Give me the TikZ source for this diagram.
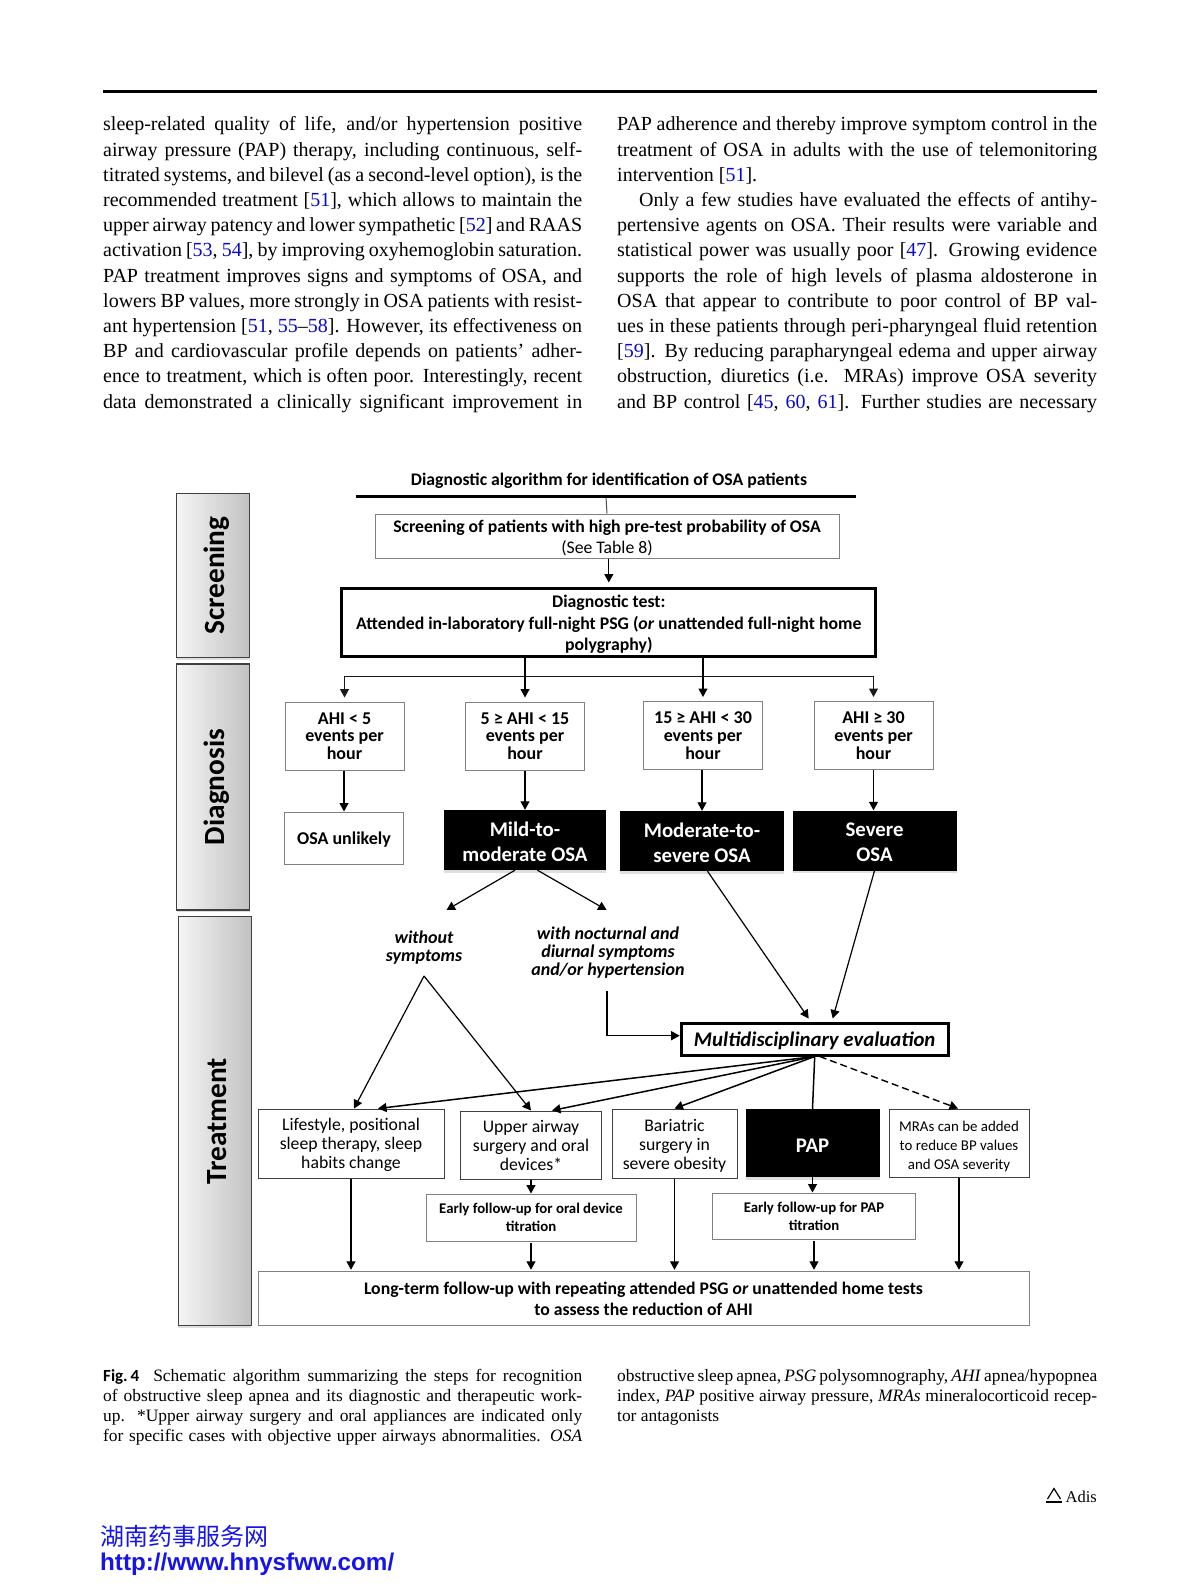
\documentclass[tikz,border=0pt]{standalone}
\usepackage{fontspec}
\setmainfont{Liberation Serif}
\newfontfamily\carlito{Carlito}
\newfontfamily\urlfont{Liberation Sans}
\newfontfamily\cjk{Noto Sans CJK SC}
\usetikzlibrary{arrows.meta, shadows}
\definecolor{citeblue}{RGB}{10,10,200}
\definecolor{markblue}{RGB}{20,20,235}
\newcommand{\rf}[1]{\textcolor{citeblue}{#1}}
\newcommand{\colleft}[1]{\makebox[479pt][s]{#1}}
\newcommand{\colright}[1]{\makebox[480pt][s]{#1}}

\begin{document}
\begin{tikzpicture}[
         x=1pt, y=-1pt,
         >={Stealth[inset=0pt,length=8.5pt,width=9pt]},
         size/.style 2 args={minimum width=#1, minimum height=#2, inner sep=0pt, align=center},
         bodyline/.style={anchor=mid west, inner sep=0pt, font=\fontsize{20}{25}\selectfont},
         capline/.style={anchor=mid west, inner sep=0pt, font=\fontsize{17.4}{20}\selectfont},
         panel/.style={draw=black!75, line width=1.1pt, left color=black!4, right color=black!24,
            drop shadow={shadow xshift=0pt, shadow yshift=-2pt, opacity=0.25},
            minimum width=73pt, inner sep=0pt, font=\carlito\bfseries\fontsize{29.3}{31}\selectfont},
         plain/.style={draw=black!50, line width=1pt, fill=white},
         rangebox/.style={plain, font=\carlito\bfseries\fontsize{18}{17.7}\selectfont},
         heavy/.style={draw=black, line width=3pt, fill=white},
         severity/.style={fill=black, text=white, size={162pt}{60pt},
            drop shadow={shadow xshift=0pt, shadow yshift=-2.5pt, opacity=0.25},
            font=\carlito\bfseries\fontsize{20.8}{25}\selectfont},
         therapy/.style={draw=black!75, line width=1pt, fill=white, font=\carlito\fontsize{17.7}{19}\selectfont},
         followup/.style={plain, font=\carlito\bfseries\fontsize{14.8}{17.7}\selectfont},
         branch/.style={inner sep=0pt, align=center, font=\carlito\bfseries\itshape\fontsize{18}{18}\selectfont},
         flow/.style={->, line width=1.2pt}
      ]
         \useasboundingbox (0,0) rectangle (1200,1594);

         % Page text
         \node[fill=black, minimum width=994pt, minimum height=2.6pt, inner sep=0pt] (toprule) at (600,91.5) {};
         \foreach \txt [count=\i] in {
            {sleep-related quality of life, and/or hypertension positive},
            {airway pressure (PAP) therapy, including continuous, self-},
            {titrated systems, and bilevel (as a second-level option), is the},
            {recommended treatment [\rf{51}], which allows to maintain the},
            {upper airway patency and lower sympathetic [\rf{52}] and RAAS},
            {activation [\rf{53}, \rf{54}], by improving oxyhemoglobin saturation.},
            {PAP treatment improves signs and symptoms of OSA, and},
            {lowers BP values, more strongly in OSA patients with resist-},
            {ant hypertension [\rf{51}, \rf{55}--\rf{58}]. However, its effectiveness on},
            {BP and cardiovascular profile depends on patients’ adher-},
            {ence to treatment, which is often poor. Interestingly, recent},
            {data demonstrated a clinically significant improvement in}}
            \node[bodyline] (left\i) at (103,{128.7+25.2*(\i-1)}) {\colleft{\txt}};
         \foreach \txt [count=\i] in {
            {PAP adherence and thereby improve symptom control in the},
            {treatment of OSA in adults with the use of telemonitoring},
            {intervention [\rf{51}].\hfill},
            {\hspace*{22pt}Only a few studies have evaluated the effects of antihy-},
            {pertensive agents on OSA. Their results were variable and},
            {statistical power was usually poor [\rf{47}]. Growing evidence},
            {supports the role of high levels of plasma aldosterone in},
            {OSA that appear to contribute to poor control of BP val-},
            {ues in these patients through peri-pharyngeal fluid retention},
            {[\rf{59}]. By reducing parapharyngeal edema and upper airway},
            {obstruction, diuretics (i.e. MRAs) improve OSA severity},
            {and BP control [\rf{45}, \rf{60}, \rf{61}]. Further studies are necessary}}
            \node[bodyline] (right\i) at (617,{128.7+25.2*(\i-1)}) {\colright{\txt}};

         % Side panels
         \node[panel, minimum height=164pt] (screening) at (213.3,575.5) {\hspace{7pt}\rotatebox{90}{Screening}};
         \node[panel, minimum height=246pt] (diagnosis) at (213.3,787) {\hspace{7pt}\rotatebox{90}{Diagnosis}};
         \node[panel, minimum height=409pt] (treatment) at (214.6,1121) {\hspace{5pt}\rotatebox{90}{Treatment}};

         % Screening and test
         \node[font=\carlito\bfseries\fontsize{17.7}{21}\selectfont] (title) at (609,481) {Diagnostic algorithm for identification of OSA patients};
         \node[fill=black, minimum width=500pt, minimum height=3pt, inner sep=0pt] (titlerule) at (606,496) {};
         \node[plain, size={464pt}{44pt}, font=\carlito\fontsize{17.7}{21}\selectfont] (screenbox) at (607,536)
            {\rule{0pt}{17pt}\textbf{Screening of patients with high pre-test probability of OSA}\\(See Table 8)};
         \node[heavy, size={534pt}{68pt}, font=\carlito\bfseries\fontsize{17.75}{21.3}\selectfont] (testbox) at (608.8,622)
            {\rule{0pt}{17pt}Diagnostic test:\\Attended in-laboratory full-night PSG (\textit{or} unattended full-night home\\polygraphy)};

         % AHI ranges
         \node[rangebox, size={119pt}{68pt}] (ahiA) at (344.5,736) {AHI < 5\\events per\\hour};
         \node[rangebox, size={119pt}{68pt}] (ahiB) at (525,736) {5 ≥ AHI < 15\\events per\\hour};
         \node[rangebox, size={119pt}{68pt}] (ahiC) at (703,735.5) {15 ≥ AHI < 30\\events per\\hour};
         \node[rangebox, size={119pt}{68pt}] (ahiD) at (873.5,735.5) {AHI ≥ 30\\events per\\hour};

         % Diagnoses
         \node[rangebox, size={119pt}{52pt}] (unlikely) at (344,838) {\rule{0pt}{15pt}OSA unlikely};
         \node[severity] (mild) at (525,840) {\rule{0pt}{18pt}Mild-to-\\moderate OSA};
         \node[severity, size={164pt}{60pt}] (moderate) at (702,841) {\rule{0pt}{18pt}Moderate-to-\\severe OSA};
         \node[severity, size={164pt}{60pt}] (severe) at (874.5,840.5) {\rule{0pt}{18pt}Severe\\OSA};

         % Symptom branches
         \node[branch] (without) at (424,948) {without\\symptoms};
         \node[branch] (nocturnal) at (608,953) {with nocturnal and\\diurnal symptoms\\and/or hypertension};
         \coordinate (withoutTip) at (446.5,910);
         \coordinate (nocturnalTip) at (606.6,910);
         \coordinate (apex) at (424,976);
         \coordinate (elbow) at (607,990.7);
         \node[heavy, size={267pt}{32pt}, font=\carlito\bfseries\itshape\fontsize{20.8}{24}\selectfont] (multi) at (814.7,1039) {\rule{0pt}{19pt}Multidisciplinary evaluation};

         % Treatments
         \node[therapy, size={186pt}{69pt}] (lifestyle) at (351,1143.5) {\rule{0pt}{16pt}Lifestyle, positional\\sleep therapy, sleep\\habits change};
         \node[therapy, size={141.6pt}{68pt}] (upper) at (531,1145) {Upper airway\\surgery and oral\\devices*};
         \node[therapy, size={125pt}{69pt}] (bariatric) at (674.5,1143.5) {\rule{0pt}{16pt}Bariatric\\surgery in\\severe obesity};
         \node[severity, size={134pt}{68pt}] (pap) at (812.5,1143) {\rule{0pt}{19pt}PAP};
         \node[therapy, size={140pt}{68pt}, font=\carlito\fontsize{14.9}{19}\selectfont] (mras) at (959,1143) {\rule{0pt}{17pt}MRAs can be added\\to reduce BP values\\and OSA severity};
         \node[followup, size={210pt}{47pt}] (earlyoral) at (531,1217.5) {Early follow-up for oral device\\titration};
         \node[followup, size={203pt}{46pt}] (earlypap) at (814,1216) {Early follow-up for PAP\\titration};
         \node[plain, size={771pt}{53.5pt}, font=\carlito\bfseries\fontsize{17.7}{21}\selectfont] (longterm) at (643.5,1298.5)
            {Long-term follow-up with repeating attended PSG \textit{or} unattended home tests\\to assess the reduction of AHI};

         % Arrows
         \draw[line width=1pt, black!70] (titlerule.south) -- (screenbox.north);
         \draw[flow, shorten >=4pt] (testbox.north |- screenbox.south) -- (testbox.north);
         \coordinate (bar) at (608,676.7);
         \draw[<->, line width=1.2pt, black!90, shorten <=4pt, shorten >=4pt] (ahiA.north) |- (bar) -| (ahiD.north);
         \draw[flow, shorten >=4pt] (testbox.south -| ahiB.north) -- (ahiB.north);
         \draw[flow, shorten >=4pt] (testbox.south -| ahiC.north) -- (ahiC.north);
         \draw[flow] (unlikely.north |- ahiA.south) -- (unlikely.north);
         \draw[flow] (ahiB.south) -- (mild.north);
         \draw[flow] (moderate.north |- ahiC.south) -- (moderate.north);
         \draw[flow] (ahiD.south) -- (ahiD.south |- severe.north);
         \draw[flow] ([xshift=-10pt]mild.south) -- (withoutTip);
         \draw[flow] ([xshift=12.5pt]mild.south) -- (nocturnalTip);
         \draw[flow] ([xshift=5.5pt]moderate.south) -- ([xshift=-6pt,yshift=3pt]multi.north);
         \draw[flow] (severe.south) -- ([xshift=18pt,yshift=3pt]multi.north);
         \draw[flow] (elbow) |- ([yshift=3.3pt]multi.west);
         \draw[flow] (apex) -- ([xshift=3pt]lifestyle.north);
         \draw[flow] (apex) -- (upper.north);
         \draw[flow, line width=1.5pt] (multi.south) -- ([xshift=27pt]lifestyle.north);
         \draw[flow, line width=1.5pt] (multi.south) -- ([xshift=21pt]upper.north);
         \draw[flow, line width=1.5pt] (multi.south) -- (bariatric.north);
         \draw[line width=1.5pt] (multi.south) -- (pap.north);
         \draw[flow, dash pattern=on 7pt off 4pt, line width=1.4pt] ([xshift=5pt]multi.south) -- ([xshift=-1pt]mras.north);
         \draw[flow] (upper.south) -- (earlyoral.north);
         \draw[flow] (pap.south) -- (pap.south |- earlypap.north);
         \draw[flow, shorten >=1.5pt] (lifestyle.south) -- (lifestyle.south |- longterm.north);
         \draw[flow, shorten >=1.5pt, shorten <=1.5pt] (earlyoral.south) -- (earlyoral.south |- longterm.north);
         \draw[flow, shorten >=1.5pt] (bariatric.south) -- (bariatric.south |- longterm.north);
         \draw[flow, shorten >=1.5pt, shorten <=1.5pt] (earlypap.south) -- (earlypap.south |- longterm.north);
         \draw[flow, shorten >=1.5pt] (mras.south) -- (mras.south |- longterm.north);

         % Caption
         \foreach \txt [count=\i] in {
            {{\carlito\bfseries\fontsize{17}{20}\selectfont Fig.\,4}\hspace{7pt} Schematic algorithm summarizing the steps for recognition},
            {of obstructive sleep apnea and its diagnostic and therapeutic work-},
            {up. *Upper airway surgery and oral appliances are indicated only},
            {for specific cases with objective upper airways abnormalities. \textit{OSA}}}
            \node[capline] (capleft\i) at (103,{1378.7+20.1*(\i-1)}) {\colleft{\txt}};
         \foreach \txt [count=\i] in {
            {obstructive sleep apnea, \textit{PSG} polysomnography, \textit{AHI} apnea/hypopnea},
            {index, \textit{PAP} positive airway pressure, \textit{MRAs} mineralocorticoid recep-},
            {tor antagonists\hfill}}
            \node[capline] (capright\i) at (617,{1378.7+20.1*(\i-1)}) {\colright{\txt}};

         % Publisher mark and web address
         \node[anchor=mid east, inner sep=0pt, font=\fontsize{16.5}{20}\selectfont] (adis) at (1097,1500) {Adis};
         \draw[line width=1.2pt] (1047.5,1499) -- (1054,1488.5) -- (1060.5,1499);
         \draw[line width=2pt] (1045.7,1502) -- (1062,1502);
         \node[anchor=mid west, inner sep=0pt, text=markblue, font=\cjk\fontsize{24}{26}\selectfont] (markname) at (100,1543) {湖南药事服务网};
         \node[anchor=mid west, inner sep=0pt, text=markblue, font=\urlfont\bfseries\fontsize{24.2}{26}\selectfont] (markurl) at (100,1568) {http://www.hnysfww.com/};
      \end{tikzpicture}
\end{document}
